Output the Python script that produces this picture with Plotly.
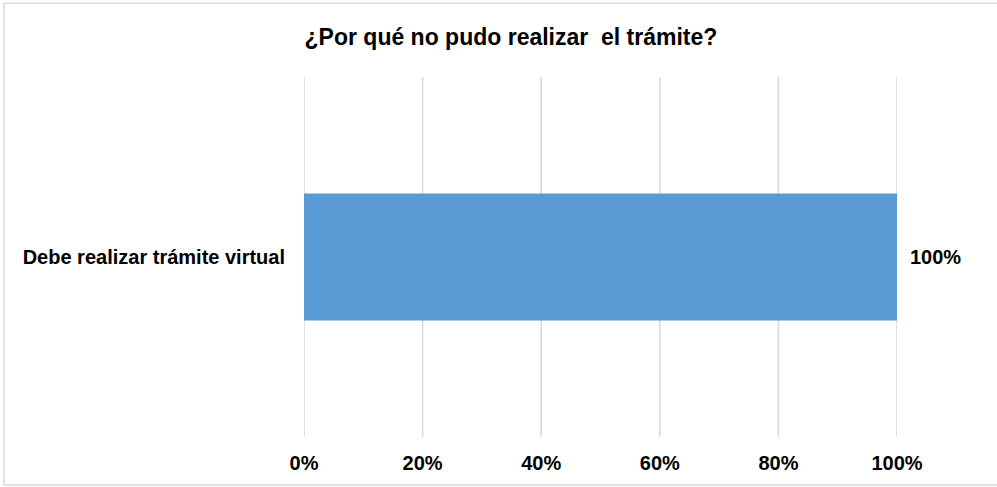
import plotly.graph_objects as go

# data
categories = ["Debe realizar trámite virtual"]
shares = [1.00]
bar_labels = ["100%"]
tick_values = [0, 0.2, 0.4, 0.6, 0.8, 1.0]
tick_labels = ["0%", "20%", "40%", "60%", "80%", "100%"]

title_text = "¿Por qué no pudo realizar  el trámite?"

FONT = "Liberation Sans, Arial, sans-serif"
GRID = "#d9d9d9"

fig = go.Figure()
fig.add_trace(go.Bar(
    x=shares,
    y=categories,
    orientation="h",
    marker=dict(color="#5b9bd5", line=dict(width=0)),
    hoverinfo="skip",
))

# vertical gridlines (drawn as shapes so the 0% and 100% edges show too)
for tv in tick_values:
    fig.add_shape(
        type="line", xref="x", yref="paper", x0=tv, x1=tv, y0=0, y1=1,
        line=dict(color=GRID, width=1.5), layer="below",
    )

# value labels right of each bar end
for v, c, lab in zip(shares, categories, bar_labels):
    fig.add_annotation(
        x=v, y=c, text=lab, showarrow=False,
        xanchor="left", xshift=11,
        font=dict(family=FONT, size=20, color="#000000", weight="bold"),
    )

# thin gray frame around the whole chart
fig.add_shape(
    type="rect", xref="paper", yref="paper",
    x0=-0.506, x1=1.2, y0=-0.133, y1=1.205,
    line=dict(color=GRID, width=1.5), fillcolor="rgba(0,0,0,0)",
)

fig.update_layout(
    width=997, height=487,
    paper_bgcolor="white", plot_bgcolor="white",
    margin=dict(l=304, r=100, t=77, b=50),
    bargap=0.647,
    showlegend=False,
    title=dict(
        text=title_text, x=0.5125, xanchor="center", y=0.925, yanchor="middle",
        font=dict(family=FONT, size=23, color="#000000", weight="bold"),
    ),
    xaxis=dict(
        range=[0, 1], tickvals=tick_values, ticktext=tick_labels,
        showgrid=False, zeroline=False, showline=False, ticks="",
        ticklabelstandoff=12,
        tickfont=dict(family=FONT, size=20, color="#000000", weight="bold"),
        fixedrange=True,
    ),
    yaxis=dict(
        range=[-0.5, 0.5], showgrid=False, zeroline=False, showline=False, ticks="",
        ticklabelstandoff=18,
        tickfont=dict(family=FONT, size=20, color="#000000", weight="bold"),
        fixedrange=True,
    ),
)

fig.write_html(
    "out.html",
    config={"displayModeBar": False},
    post_script="document.body.style.margin='0px';",
)
